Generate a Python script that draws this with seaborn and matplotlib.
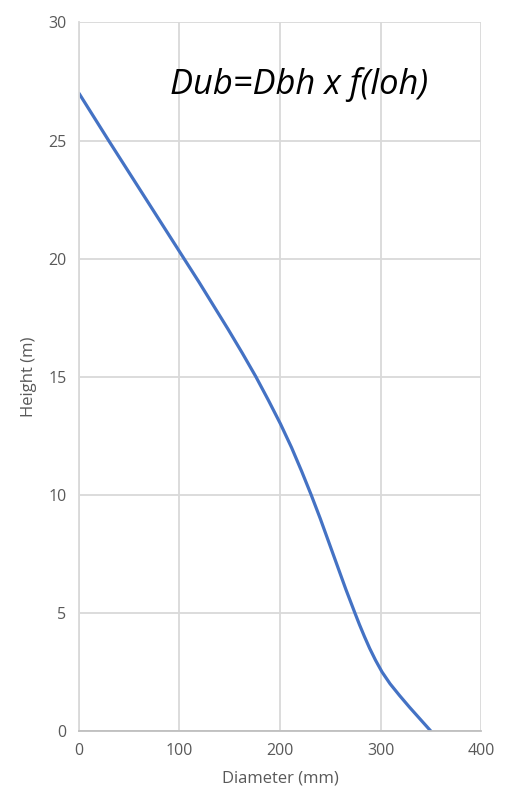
import numpy as np
import pandas as pd
import matplotlib
matplotlib.use("Agg")
import matplotlib.pyplot as plt
import seaborn as sns

# taper curve: height (m) vs under-bark diameter (mm)
height = [0, 0.5, 1, 1.5, 2, 2.5, 3, 3.5, 4, 4.5, 5, 6, 7, 8, 9, 10, 11, 12, 13, 14,
          15, 16, 17, 18, 19, 20, 21, 22, 23, 24, 25, 26, 27]
diameter = [350, 339.5, 329, 319, 309.5, 301.5, 295, 289.2, 284, 279.1, 274.5, 265.5, 257,
            248.5, 240, 231, 221.5, 211.5, 200.5, 188.5,
            176, 162.5, 148.5, 134, 119.5, 104.5, 89.5, 74.5, 59.5, 44.5, 29.5, 14.75, 0]
x_ticks = [0, 100, 200, 300, 400]
y_ticks = [0, 5, 10, 15, 20, 25, 30]

df = pd.DataFrame({'Diameter': diameter, 'Height': height})

sns.set_style("whitegrid")
plt.rcParams['font.family'] = ['Open Sans', 'DejaVu Sans']

fig = plt.figure(figsize=(5.18, 8.08), dpi=100)
ax = fig.add_axes([0.1525, 0.0953, 0.7761, 0.8769])

sns.lineplot(data=df, x='Diameter', y='Height', sort=False, estimator=None,
             color='#4472C4', linewidth=2.3, ax=ax, solid_joinstyle='round')

ax.set_xlim(0, 400)
ax.set_ylim(0, 30)
ax.set_xticks(x_ticks)
ax.set_yticks(y_ticks)
ax.grid(True, color='#D9D9D9', linewidth=1.3)
for s in ['top', 'right']:
    ax.spines[s].set_visible(False)
ax.spines['bottom'].set_color('#BFBFBF')
ax.spines['left'].set_color('#D9D9D9')
ax.spines['bottom'].set_linewidth(1.3)
ax.spines['left'].set_linewidth(1.3)
ax.tick_params(length=0, labelsize=11.5, colors='#595959', pad=9)

ax.set_xlabel('Diameter (mm)', fontsize=12, color='#595959', labelpad=8)
ax.set_ylabel('Height (m)', fontsize=12, color='#595959', labelpad=8)

ax.text(0.547, 0.899, 'Dub=Dbh x f(loh)', transform=ax.transAxes, ha='center',
        va='baseline', fontsize=24.8, style='italic', color='black')

fig.savefig('out.png', dpi=100, facecolor='white')
